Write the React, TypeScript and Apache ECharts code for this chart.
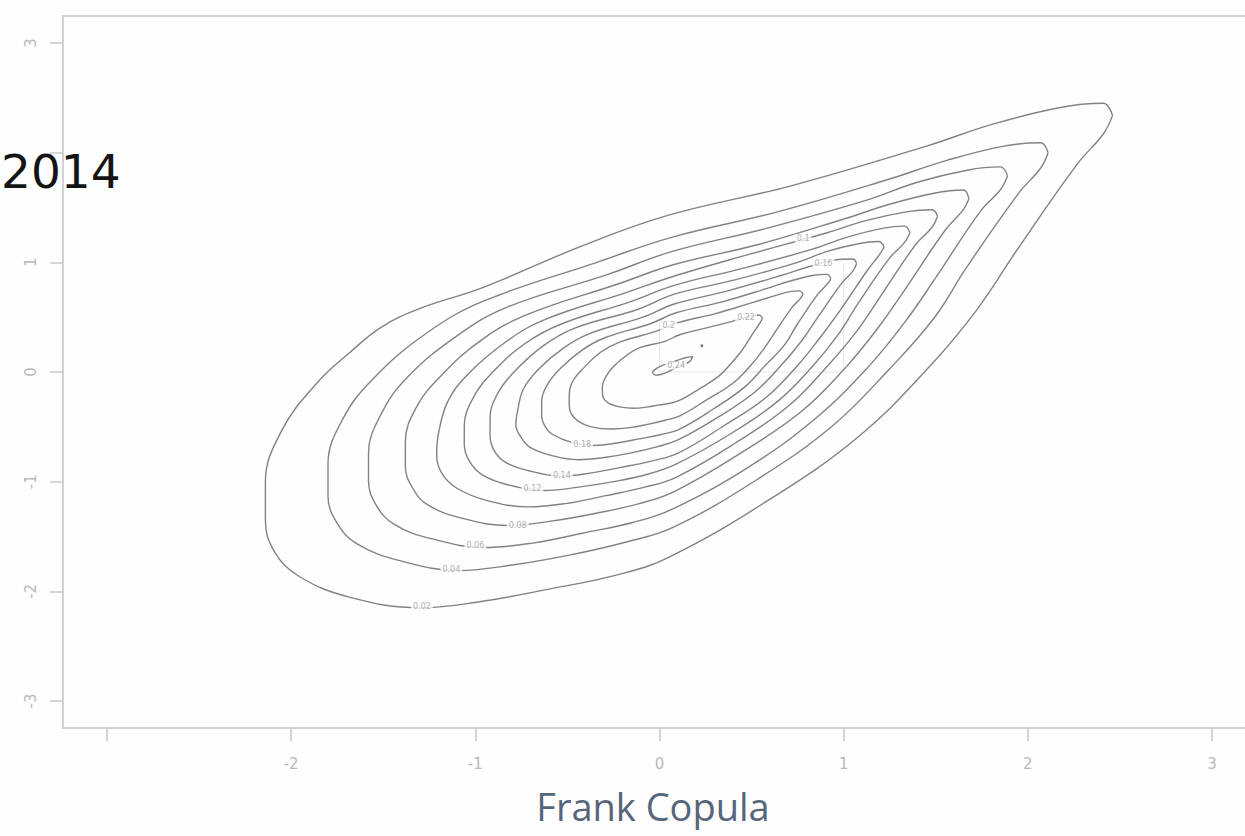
import React, { useEffect, useRef } from "react";
import * as echarts from "echarts";

// Contour levels of the Frank copula density
const levels = ["0.02", "0.04", "0.06", "0.08", "0.1", "0.12", "0.14", "0.16", "0.18", "0.2", "0.22", "0.24"];

const contour002 = [[2.46,2.34],[2.41,2.45],[2.17,2.41],[1.81,2.26],[1.45,2.06],[0.72,1.70],[0.05,1.43],[-0.42,1.15],[-0.96,0.77],[-1.30,0.58],[-1.51,0.41],[-1.68,0.18],[-1.86,-0.10],[-2.05,-0.53],[-2.14,-1.01],[-2.14,-1.35],[-2.09,-1.64],[-1.96,-1.86],[-1.69,-2.05],[-1.30,-2.15],[-0.96,-2.09],[-0.60,-1.98],[-0.23,-1.85],[0.05,-1.69],[0.60,-1.16],[1.08,-0.59],[1.45,0.02],[1.72,0.56],[1.94,1.11],[2.27,1.90],[2.41,2.17],[2.46,2.34]];
const contour004 = [[2.11,2.00],[2.07,2.09],[1.87,2.06],[1.56,1.93],[1.25,1.76],[0.64,1.46],[0.07,1.23],[-0.34,1.00],[-0.95,0.65],[-1.26,0.36],[-1.56,-0.07],[-1.72,-0.43],[-1.80,-0.84],[-1.80,-1.13],[-1.75,-1.38],[-1.64,-1.57],[-1.41,-1.72],[-1.09,-1.81],[-0.80,-1.76],[-0.49,-1.67],[-0.18,-1.55],[0.07,-1.42],[0.53,-0.98],[0.94,-0.49],[1.25,0.03],[1.49,0.49],[1.67,0.96],[1.95,1.63],[2.07,1.86],[2.11,2.00]];
const contour006 = [[1.89,1.79],[1.85,1.87],[1.67,1.84],[1.40,1.73],[1.13,1.57],[0.58,1.31],[0.07,1.10],[-0.28,0.89],[-0.83,0.59],[-1.10,0.33],[-1.37,-0.05],[-1.51,-0.38],[-1.58,-0.74],[-1.58,-0.99],[-1.54,-1.21],[-1.44,-1.39],[-1.24,-1.52],[-0.95,-1.60],[-0.69,-1.56],[-0.42,-1.47],[-0.14,-1.37],[0.07,-1.25],[0.49,-0.86],[0.85,-0.42],[1.13,0.04],[1.33,0.45],[1.50,0.86],[1.74,1.46],[1.85,1.66],[1.89,1.79]];
const contour008 = [[1.68,1.58],[1.65,1.66],[1.49,1.63],[1.25,1.53],[1.01,1.40],[0.53,1.16],[0.08,0.98],[-0.23,0.80],[-0.71,0.53],[-0.96,0.30],[-1.19,-0.04],[-1.32,-0.32],[-1.38,-0.64],[-1.38,-0.86],[-1.34,-1.06],[-1.26,-1.21],[-1.08,-1.33],[-0.82,-1.40],[-0.59,-1.36],[-0.35,-1.29],[-0.11,-1.20],[0.08,-1.09],[0.44,-0.74],[0.77,-0.36],[1.01,0.04],[1.19,0.41],[1.34,0.77],[1.55,1.29],[1.65,1.48],[1.68,1.58]];
const contour010 = [[1.51,1.42],[1.48,1.48],[1.34,1.46],[1.12,1.38],[0.91,1.27],[0.48,1.07],[0.09,0.88],[-0.19,0.72],[-0.62,0.48],[-0.83,0.28],[-1.04,-0.02],[-1.15,-0.27],[-1.20,-0.56],[-1.21,-0.76],[-1.18,-0.93],[-1.10,-1.06],[-0.94,-1.17],[-0.71,-1.23],[-0.51,-1.20],[-0.30,-1.13],[-0.08,-1.05],[0.09,-0.96],[0.41,-0.65],[0.70,-0.31],[0.91,0.05],[1.07,0.37],[1.20,0.69],[1.39,1.16],[1.48,1.32],[1.51,1.42]];
const contour012 = [[1.36,1.27],[1.33,1.33],[1.21,1.31],[1.02,1.23],[0.83,1.12],[0.44,0.94],[0.08,0.79],[-0.16,0.64],[-0.53,0.44],[-0.73,0.26],[-0.91,-0.01],[-1.01,-0.23],[-1.06,-0.49],[-1.06,-0.66],[-1.03,-0.82],[-0.96,-0.94],[-0.82,-1.03],[-0.62,-1.08],[-0.44,-1.05],[-0.25,-1.00],[-0.06,-0.93],[0.09,-0.84],[0.38,-0.57],[0.64,-0.27],[0.83,0.05],[0.97,0.34],[1.08,0.63],[1.25,1.04],[1.33,1.18],[1.36,1.27]];
const contour014 = [[1.22,1.14],[1.19,1.19],[1.08,1.17],[0.91,1.10],[0.75,1.00],[0.41,0.84],[0.08,0.71],[-0.12,0.57],[-0.46,0.40],[-0.63,0.24],[-0.79,0.00],[-0.88,-0.20],[-0.92,-0.42],[-0.92,-0.58],[-0.90,-0.71],[-0.84,-0.82],[-0.71,-0.90],[-0.53,-0.95],[-0.37,-0.92],[-0.21,-0.87],[-0.04,-0.81],[0.10,-0.74],[0.35,-0.49],[0.58,-0.23],[0.75,0.06],[0.87,0.31],[0.98,0.56],[1.13,0.93],[1.19,1.06],[1.22,1.14]];
const contour016 = [[1.07,0.99],[1.05,1.03],[0.95,1.02],[0.81,0.96],[0.66,0.88],[0.37,0.74],[0.08,0.62],[-0.09,0.50],[-0.38,0.35],[-0.52,0.22],[-0.66,0.02],[-0.74,-0.16],[-0.77,-0.35],[-0.78,-0.48],[-0.75,-0.60],[-0.70,-0.69],[-0.59,-0.76],[-0.44,-0.80],[-0.30,-0.78],[-0.16,-0.74],[-0.01,-0.68],[0.10,-0.62],[0.32,-0.41],[0.52,-0.18],[0.66,0.06],[0.77,0.28],[0.86,0.50],[0.99,0.81],[1.05,0.92],[1.07,0.99]];
const contour018 = [[0.93,0.85],[0.91,0.89],[0.83,0.88],[0.71,0.83],[0.58,0.76],[0.34,0.64],[0.09,0.54],[-0.05,0.44],[-0.30,0.31],[-0.42,0.20],[-0.54,0.03],[-0.61,-0.12],[-0.64,-0.28],[-0.64,-0.40],[-0.62,-0.50],[-0.58,-0.57],[-0.48,-0.64],[-0.35,-0.67],[-0.24,-0.65],[-0.11,-0.61],[0.01,-0.57],[0.11,-0.52],[0.29,-0.34],[0.46,-0.14],[0.58,0.07],[0.68,0.25],[0.75,0.44],[0.86,0.71],[0.91,0.80],[0.93,0.85]];
const contour020 = [[0.78,0.71],[0.76,0.74],[0.70,0.73],[0.50,0.63],[0.30,0.53],[0.10,0.45],[-0.02,0.37],[-0.22,0.27],[-0.32,0.18],[-0.41,0.04],[-0.47,-0.08],[-0.49,-0.21],[-0.49,-0.30],[-0.48,-0.38],[-0.44,-0.45],[-0.37,-0.50],[-0.26,-0.52],[-0.17,-0.51],[-0.07,-0.48],[0.03,-0.44],[0.11,-0.40],[0.26,-0.25],[0.40,-0.10],[0.50,0.07],[0.57,0.22],[0.63,0.37],[0.72,0.59],[0.76,0.66],[0.78,0.71]];
const contour022 = [[0.56,0.49],[0.54,0.52],[0.50,0.51],[0.39,0.46],[0.25,0.40],[0.11,0.34],[0.03,0.28],[-0.11,0.22],[-0.18,0.15],[-0.25,0.05],[-0.29,-0.04],[-0.31,-0.13],[-0.31,-0.19],[-0.30,-0.25],[-0.27,-0.29],[-0.21,-0.32],[-0.14,-0.33],[-0.07,-0.32],[0.00,-0.30],[0.07,-0.28],[0.12,-0.25],[0.22,-0.15],[0.32,-0.04],[0.39,0.08],[0.44,0.18],[0.48,0.28],[0.53,0.41],[0.55,0.46],[0.56,0.49]];
const contour024 = [[-0.04,0.00],[0.00,0.05],[0.07,0.09],[0.14,0.13],[0.18,0.14],[0.16,0.09],[0.10,0.05],[0.03,-0.01],[-0.02,-0.03],[-0.04,0.00]];

const contours = [contour002, contour004, contour006, contour008, contour010, contour012, contour014, contour016, contour018, contour020, contour022, contour024];

// Inline contour labels: [x, y, text]
const labelPoints: [number, number, string][] = [
  [-1.29, -2.14, "0.02"],
  [-1.13, -1.80, "0.04"],
  [-1.0, -1.58, "0.06"],
  [-0.77, -1.40, "0.08"],
  [-0.69, -1.06, "0.12"],
  [-0.53, -0.94, "0.14"],
  [-0.42, -0.66, "0.18"],
  [0.78, 1.22, "0.1"],
  [0.89, 0.99, "0.16"],
  [0.05, 0.42, "0.2"],
  [0.47, 0.50, "0.22"],
  [0.09, 0.06, "0.24"],
];

const peakPoint = [[0.23, 0.24]];
const unitSquare = [[0, 0.45], [0, 0], [1, 0], [1, 1]];

const xTickValues = [-3, -2, -1, 0, 1, 2, 3];
const yTickValues = [-3, -2, -1, 0, 1, 2, 3];
const xHiddenLabels = [-3];
const yHiddenLabels = [2];

const titleText = "2014";
const xTitle = "Frank Copula";

export default function App() {
  const ref = useRef<HTMLDivElement>(null);
  useEffect(() => {
    if (!ref.current) return;
    const chart = echarts.init(ref.current, null, { renderer: "svg" });
    const axisColor = "#c9c9c9";
    const labelColor = "#b9b9b9";
    const series: any[] = contours.map((c, i) => ({
      type: "line",
      name: levels[i],
      data: c,
      showSymbol: false,
      symbol: "none",
      smooth: 0.4,
      lineStyle: { color: "#828282", width: 1.4 },
      z: 2,
      silent: true,
    }));
    series.push({
      type: "line",
      data: unitSquare,
      showSymbol: false,
      symbol: "none",
      lineStyle: { color: "#e8e8e8", width: 1 },
      z: 1,
      silent: true,
    });
    series.push({
      type: "scatter",
      data: peakPoint,
      symbolSize: 3,
      itemStyle: { color: "#555" },
      z: 3,
      silent: true,
    });
    series.push({
      type: "scatter",
      data: labelPoints.map((p) => ({ value: [p[0], p[1]], name: p[2] })),
      symbolSize: 1,
      itemStyle: { color: "rgba(0,0,0,0)" },
      z: 4,
      silent: true,
      label: {
        show: true,
        position: "inside",
        formatter: "{b}",
        fontSize: 8,
        fontFamily: "DejaVu Sans",
        color: "#9a9a9a",
        backgroundColor: "#fefefe",
        padding: [0, 2],
      },
    });

    const option: any = {
      animation: false,
      backgroundColor: "#fefefe",
      grid: { left: 107, right: 33, top: 43, bottom: 135 },
      xAxis: {
        type: "value",
        min: -3,
        max: 3,
        interval: 1,
        offset: 27,
        axisLine: { show: false, onZero: false },
        splitLine: { show: false },
        axisTick: { show: true, length: 13, lineStyle: { color: axisColor, width: 1.5 } },
        axisLabel: {
          margin: 28,
          color: labelColor,
          fontSize: 15,
          fontFamily: "DejaVu Sans",
          formatter: (v: number) => (xHiddenLabels.includes(v) || !xTickValues.includes(v) ? "" : String(v)),
        },
      },
      yAxis: {
        type: "value",
        min: -3,
        max: 3,
        interval: 1,
        offset: 44,
        axisLine: { show: false, onZero: false },
        splitLine: { show: false },
        axisTick: { show: true, length: 13, lineStyle: { color: axisColor, width: 1.5 } },
        axisLabel: {
          margin: 25,
          rotate: 90,
          color: labelColor,
          fontSize: 15,
          fontFamily: "DejaVu Sans",
          formatter: (v: number) => (yHiddenLabels.includes(v) || !yTickValues.includes(v) ? "" : String(v)),
        },
      },
      graphic: [
        {
          type: "rect",
          shape: { x: 63, y: 16, width: 1193, height: 712 },
          style: { fill: "none", stroke: "#d2d2d2", lineWidth: 2 },
          z: 0,
          silent: true,
        },
        {
          type: "text",
          x: 1,
          y: 171,
          style: {
            text: titleText,
            font: '47px "DejaVu Sans"',
            fill: "#141414",
            align: "left",
            verticalAlign: "middle",
          },
          z: 10,
        },
        {
          type: "text",
          x: 653,
          y: 806,
          style: {
            text: xTitle,
            font: '38px "Open Sans"',
            fill: "#56657a",
            align: "center",
            verticalAlign: "middle",
          },
          z: 10,
        },
      ],
      series,
    };
    chart.setOption(option);
    return () => chart.dispose();
  }, []);

  return (
    <div
      ref={ref}
      style={{ position: "fixed", left: 0, top: 0, width: 1245, height: 836 }}
    />
  );
}
